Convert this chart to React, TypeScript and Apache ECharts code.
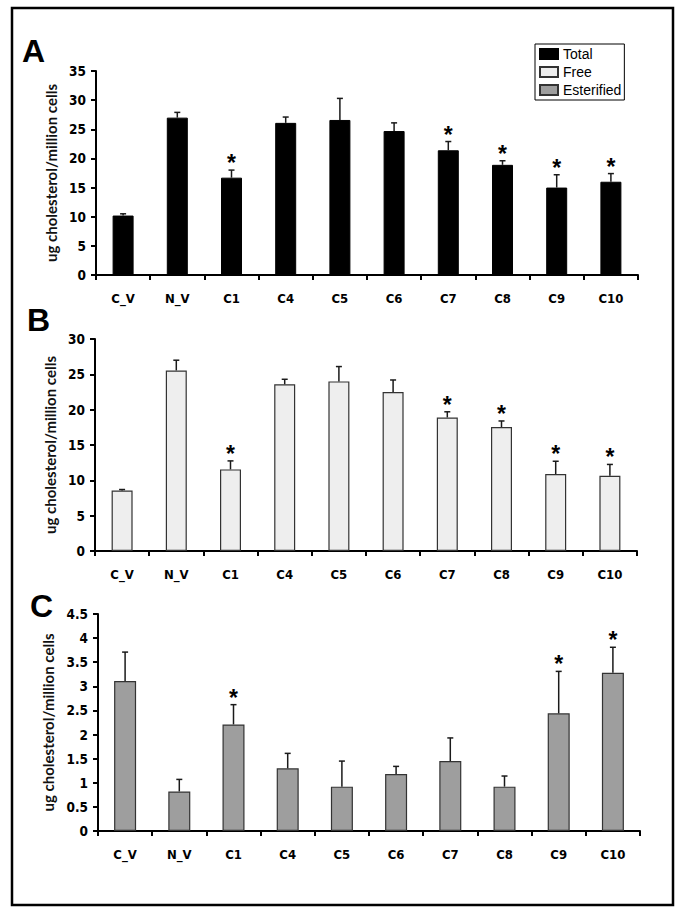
import React, { useEffect, useRef } from "react";
import * as echarts from "echarts";

const categories = ["C_V", "N_V", "C1", "C4", "C5", "C6", "C7", "C8", "C9", "C10"];

const totalMean = [10.2, 27.0, 16.7, 26.1, 26.6, 24.7, 21.4, 18.9, 15.0, 16.0];
const totalErr = [0.3, 0.9, 1.3, 1.0, 3.7, 1.4, 1.5, 0.7, 2.2, 1.4];
const totalSig = [0, 0, 1, 0, 0, 0, 1, 1, 1, 1];

const freeMean = [8.55, 25.55, 11.55, 23.6, 24.0, 22.5, 18.9, 17.55, 10.9, 10.65];
const freeErr = [0.15, 1.45, 1.2, 0.7, 2.1, 1.7, 0.8, 0.85, 1.8, 1.6];
const freeSig = [0, 0, 1, 0, 0, 0, 1, 1, 1, 1];

const esterMean = [3.11, 0.82, 2.21, 1.3, 0.92, 1.18, 1.45, 0.92, 2.44, 3.28];
const esterErr = [0.6, 0.25, 0.41, 0.31, 0.53, 0.16, 0.48, 0.22, 0.87, 0.53];
const esterSig = [0, 0, 1, 0, 0, 0, 0, 0, 1, 1];

const yMaxA = 35, yStepA = 5;
const yMaxB = 30, yStepB = 5;
const yMaxC = 4.5, yStepC = 0.5;

const panelLetters = ["A", "B", "C"];
const yTitle = "ug cholesterol/million cells";

const NARROW = "'Liberation Sans Narrow', 'DejaVu Sans Condensed', 'Liberation Sans', sans-serif";

function errData(mean: number[], err: number[], sig: number[]) {
  return mean.map((m, i) => [i, m, err[i], sig[i]]);
}

const errRender = (params: any, api: any) => {
  const x = api.value(0);
  const m = api.value(1);
  const e = api.value(2);
  const s = api.value(3);
  const p0 = api.coord([x, m]);
  const p1 = api.coord([x, m + e]);
  const children: any[] = [
    { type: "line", shape: { x1: p0[0], y1: p0[1], x2: p1[0], y2: p1[1] }, style: { stroke: "#1a1a1a", lineWidth: 1.5 } },
    { type: "line", shape: { x1: p1[0] - 3, y1: p1[1], x2: p1[0] + 3, y2: p1[1] }, style: { stroke: "#1a1a1a", lineWidth: 1.5 } },
  ];
  if (s) {
    children.push({
      type: "text",
      style: {
        text: "*",
        x: p1[0],
        y: p1[1] - 7,
        align: "center",
        verticalAlign: "middle",
        font: "bold 23px 'Liberation Sans', Arial, sans-serif",
        fill: "#000",
      },
    });
  }
  return { type: "group", children };
};

export default function App() {
  const ref = useRef<HTMLDivElement>(null);
  useEffect(() => {
    if (!ref.current) return;
    const chart = echarts.init(ref.current, null, { renderer: "svg" });
    const grids = [
      { left: 96, top: 71, width: 542, height: 204 },
      { left: 95, top: 339, width: 542, height: 212 },
      { left: 98, top: 614, width: 542, height: 217 },
    ];
    const yCfg = [
      [yMaxA, yStepA],
      [yMaxB, yStepB],
      [yMaxC, yStepC],
    ];
    const nameGaps = [34, 33, 36];
    const xAxis = grids.map((_, i) => ({
      type: "category",
      gridIndex: i,
      data: categories,
      axisLine: { lineStyle: { color: "#000", width: 2 } },
      axisTick: { show: true, length: 5, lineStyle: { color: "#000", width: 2 } },
      axisLabel: { margin: 17, fontFamily: NARROW, fontWeight: "bold", fontSize: 13, color: "#000" },
    }));
    const yAxis = grids.map((_, i) => ({
      type: "value",
      gridIndex: i,
      min: 0,
      max: yCfg[i][0],
      interval: yCfg[i][1],
      splitLine: { show: false },
      axisLine: { show: true, lineStyle: { color: "#000", width: 2 } },
      axisTick: { show: true, length: 5, lineStyle: { color: "#000", width: 2 } },
      axisLabel: { margin: 10, fontFamily: NARROW, fontWeight: "bold", fontSize: 13.5, color: "#000" },
      name: yTitle,
      nameLocation: "middle",
      nameGap: nameGaps[i],
      nameTextStyle: { fontFamily: "Lato, 'Open Sans', sans-serif", fontWeight: "bold", fontSize: 15, color: "#111" },
    }));
    const option: any = {
      animation: false,
      backgroundColor: "#fff",
      grid: grids,
      xAxis,
      yAxis,
      legend: {
        data: ["Total", "Free", "Esterified"],
        orient: "vertical",
        left: 535,
        top: 44,
        itemWidth: 18,
        itemHeight: 10,
        itemGap: 4,
        padding: [3, 3, 3, 4],
        borderColor: "#000",
        borderWidth: 1,
        selectedMode: false,
        icon: "rect",
        textStyle: { fontFamily: "'Liberation Sans', Arial, sans-serif", fontSize: 14, color: "#000" },
      },
      graphic: [
        { type: "rect", shape: { x: 12, y: 8, width: 661, height: 897 }, style: { fill: "none", stroke: "#000", lineWidth: 2.5 } },
        ...panelLetters.map((t, i) => ({
          type: "text",
          left: [22, 27, 30][i],
          top: [35, 304, 590][i],
          style: { text: t, font: "bold 32px 'Liberation Sans', Arial, sans-serif", fill: "#000" },
        })),
      ],
      series: [
        {
          name: "Total",
          type: "bar",
          xAxisIndex: 0,
          yAxisIndex: 0,
          data: totalMean,
          barWidth: 21,
          itemStyle: { color: "#000", borderColor: "#000", borderWidth: 1 },
        },
        {
          name: "Free",
          type: "bar",
          xAxisIndex: 1,
          yAxisIndex: 1,
          data: freeMean,
          barWidth: 21,
          itemStyle: { color: "#eeeeee", borderColor: "#333", borderWidth: 1.2 },
        },
        {
          name: "Esterified",
          type: "bar",
          xAxisIndex: 2,
          yAxisIndex: 2,
          data: esterMean,
          barWidth: 22,
          itemStyle: { color: "#9e9e9e", borderColor: "#333", borderWidth: 1.2 },
        },
        { name: "errA", type: "custom", xAxisIndex: 0, yAxisIndex: 0, data: errData(totalMean, totalErr, totalSig), renderItem: errRender, z: 5 },
        { name: "errB", type: "custom", xAxisIndex: 1, yAxisIndex: 1, data: errData(freeMean, freeErr, freeSig), renderItem: errRender, z: 5 },
        { name: "errC", type: "custom", xAxisIndex: 2, yAxisIndex: 2, data: errData(esterMean, esterErr, esterSig), renderItem: errRender, z: 5 },
      ],
    };
    chart.setOption(option);
    return () => chart.dispose();
  }, []);
  return <div ref={ref} style={{ position: "fixed", left: 0, top: 0, width: 685, height: 913 }} />;
}
